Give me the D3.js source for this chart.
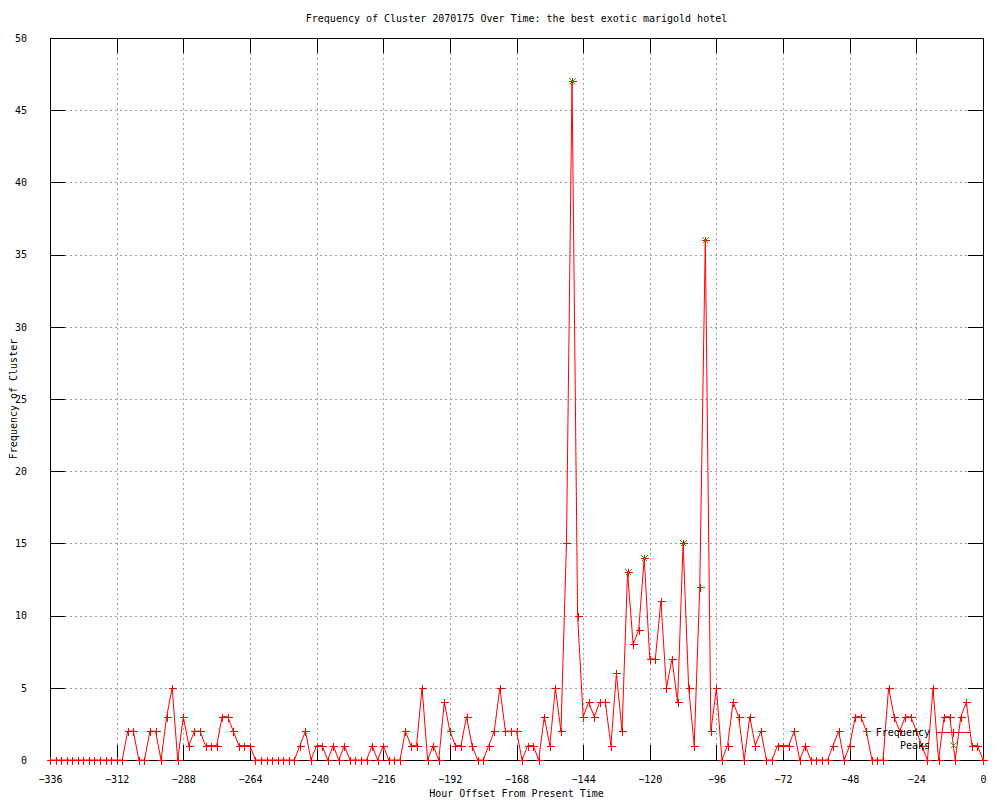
<!DOCTYPE html>
<html>
<head>
<meta charset="utf-8">
<script src="https://cdn.jsdelivr.net/npm/d3@7"></script>
<style>
  body { margin: 0; background: #fff; }
  text { font-family: "DejaVu Sans Mono", "Liberation Mono", monospace; font-size: 10px; fill: #000; }
  .grid line { stroke: #a0a0a0; stroke-dasharray: 2,3; shape-rendering: crispEdges; }
  .tick line { stroke: #000; shape-rendering: crispEdges; }
  .border { fill: none; stroke: #000; shape-rendering: crispEdges; }
  .freq { fill: none; stroke: #ff0000; stroke-width: 1; }
  .mark { stroke: #ff0000; shape-rendering: crispEdges; }
  .peak { stroke: #00c000; shape-rendering: crispEdges; }
</style>
</head>
<body>
<svg id="chart" width="1000" height="800"></svg>
<script>

// hours before present (one sample each 2 hours)
var hours = [
  -336,-334,-332,-330,-328,-326,-324,-322,-320,-318,-316,-314,-312,-310,-308,-306,-304,-302,-300,-298,
  -296,-294,-292,-290,-288,-286,-284,-282,-280,-278,-276,-274,-272,-270,-268,-266,-264,-262,-260,-258,
  -256,-254,-252,-250,-248,-246,-244,-242,-240,-238,-236,-234,-232,-230,-228,-226,-224,-222,-220,-218,
  -216,-214,-212,-210,-208,-206,-204,-202,-200,-198,-196,-194,-192,-190,-188,-186,-184,-182,-180,-178,
  -176,-174,-172,-170,-168,-166,-164,-162,-160,-158,-156,-154,-152,-150,-148,-146,-144,-142,-140,-138,
  -136,-134,-132,-130,-128,-126,-124,-122,-120,-118,-116,-114,-112,-110,-108,-106,-104,-102,-100,-98,
  -96,-94,-92,-90,-88,-86,-84,-82,-80,-78,-76,-74,-72,-70,-68,-66,-64,-62,-60,-58,
  -56,-54,-52,-50,-48,-46,-44,-42,-40,-38,-36,-34,-32,-30,-28,-26,-24,-22,-20,-18,
  -16,-14,-12,-10,-8,-6,-4,-2,0
];

var frequency = [
  0,0,0,0,0,0,0,0,0,0,0,0,0,0,2,2,0,0,2,2,
  0,3,5,0,3,1,2,2,1,1,1,3,3,2,1,1,1,0,0,0,
  0,0,0,0,0,1,2,0,1,1,0,1,0,1,0,0,0,0,1,0,
  1,0,0,0,2,1,1,5,0,1,0,4,2,1,1,3,1,0,0,1,
  2,5,2,2,2,0,1,1,0,3,1,5,2,15,47,10,3,4,3,4,
  4,1,6,2,13,8,9,14,7,7,11,5,7,4,15,5,1,12,36,2,
  5,0,1,4,3,0,3,1,2,0,0,1,1,1,2,0,1,0,0,0,
  0,1,2,0,1,3,3,2,0,0,0,5,3,2,3,3,2,1,0,5,
  0,3,3,0,3,4,1,1,0
];

var peakHours = [-148, -128, -122, -108, -100];
var peakValues = [47, 13, 14, 15, 36];

var xTicks = [-336,-312,-288,-264,-240,-216,-192,-168,-144,-120,-96,-72,-48,-24,0];
var yTicks = [0,5,10,15,20,25,30,35,40,45,50];

var titleText = "Frequency of Cluster 2070175 Over Time: the best exotic marigold hotel";
var xLabel = "Hour Offset From Present Time";
var yLabel = "Frequency of Cluster";

/************************************************************************************************************/

var svg = d3.select("#chart");
var margin = {left: 50, right: 17, top: 38, bottom: 40};
var width = 1000 - margin.left - margin.right,
  height = 800 - margin.top - margin.bottom;

var x = d3.scaleLinear().domain([-336, 0]).range([margin.left, margin.left + width]);
var y = d3.scaleLinear().domain([0, 50]).range([margin.top + height, margin.top]);

var tickLen = 15;

//grid
var grid = svg.append("g").classed("grid", true);
grid.selectAll(".gx").data(xTicks.slice(1, -1)).enter().append("line")
  .attr("x1", function(d){ return Math.round(x(d)) + 0.5; })
  .attr("x2", function(d){ return Math.round(x(d)) + 0.5; })
  .attr("y1", y(0)).attr("y2", y(50));
grid.selectAll(".gy").data(yTicks.slice(1, -1)).enter().append("line")
  .attr("y1", function(d){ return Math.round(y(d)) + 0.5; })
  .attr("y2", function(d){ return Math.round(y(d)) + 0.5; })
  .attr("x1", x(-336)).attr("x2", x(0));

//axes, ticks mirrored inward like gnuplot
var axisB = svg.append("g").attr("transform", "translate(0," + y(0) + ")")
  .call(d3.axisBottom(x).tickValues(xTicks).tickSizeInner(-tickLen).tickSizeOuter(0).tickPadding(tickLen + 5).tickFormat(d3.format("d")));
var axisT = svg.append("g").attr("transform", "translate(0," + y(50) + ")")
  .call(d3.axisTop(x).tickValues(xTicks).tickSizeInner(-tickLen).tickSizeOuter(0).tickFormat(""));
var axisL = svg.append("g").attr("transform", "translate(" + x(-336) + ",0)")
  .call(d3.axisLeft(y).tickValues(yTicks).tickSizeInner(-tickLen).tickSizeOuter(0).tickPadding(tickLen + 8).tickFormat(d3.format("d")));
var axisR = svg.append("g").attr("transform", "translate(" + x(0) + ",0)")
  .call(d3.axisRight(y).tickValues(yTicks).tickSizeInner(-tickLen).tickSizeOuter(0).tickFormat(""));

[axisB, axisT, axisL, axisR].forEach(function(a){
  a.select(".domain").remove();
  a.selectAll("text").style("font-family", null).style("font-size", null).attr("fill", "#000");
});
axisB.selectAll("text").attr("dy", "0.3em");

svg.append("rect").classed("border", true)
  .attr("x", Math.round(x(-336)) + 0.5).attr("y", Math.round(y(50)) + 0.5)
  .attr("width", Math.round(x(0)) - Math.round(x(-336))).attr("height", Math.round(y(0)) - Math.round(y(50)));

//titles
svg.append("text").attr("x", (x(-336) + x(0)) / 2).attr("y", 22).attr("text-anchor", "middle").text(titleText);
svg.append("text").attr("x", (x(-336) + x(0)) / 2).attr("y", 797).attr("text-anchor", "middle").text(xLabel);
svg.append("text").attr("transform", "translate(17," + ((y(0) + y(50)) / 2) + ") rotate(-90)")
  .attr("text-anchor", "middle").text(yLabel);

//frequency line
var data = hours.map(function(h, i){ return {h: h, v: frequency[i]}; });
var valueline = d3.line().x(function(d){ return x(d.h); }).y(function(d){ return y(d.v); });

var chart = svg.append("g");
chart.append("path").classed("freq", true).attr("d", valueline(data));

function plus(g, cx, cy){
  cx = Math.round(cx) + 0.5; cy = Math.round(cy) + 0.5;
  g.append("line").attr("x1", cx - 4).attr("x2", cx + 4).attr("y1", cy).attr("y2", cy);
  g.append("line").attr("x1", cx).attr("x2", cx).attr("y1", cy - 4).attr("y2", cy + 4);
}
function cross(g, cx, cy){
  cx = Math.round(cx) + 0.5; cy = Math.round(cy) + 0.5;
  g.append("line").attr("x1", cx - 3).attr("x2", cx + 3).attr("y1", cy - 3).attr("y2", cy + 3);
  g.append("line").attr("x1", cx - 3).attr("x2", cx + 3).attr("y1", cy + 3).attr("y2", cy - 3);
}

var marks = chart.append("g").classed("mark", true);
data.forEach(function(d){ plus(marks, x(d.h), y(d.v)); });

var peaks = chart.append("g").classed("peak", true);
peakHours.forEach(function(h, i){ cross(peaks, x(h), y(peakValues[i])); });

//legend
var legend = svg.append("g");
legend.append("text").attr("x", 930).attr("y", 736).attr("text-anchor", "end").text("Frequency");
legend.append("text").attr("x", 930).attr("y", 749).attr("text-anchor", "end").text("Peaks");
legend.append("line").attr("x1", 937).attr("x2", 970).attr("y1", 732.5).attr("y2", 732.5).attr("stroke", "#ff0000");
plus(legend.append("g").classed("mark", true), 953, 732);
cross(legend.append("g").classed("peak", true), 953, 745);

</script>
</body>
</html>
